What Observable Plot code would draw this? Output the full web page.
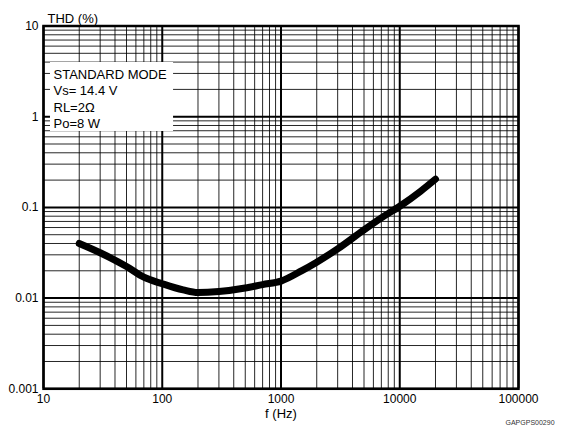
<!DOCTYPE html>
<html>
<head>
<meta charset="utf-8">
<script src="https://cdn.jsdelivr.net/npm/d3@7"></script>
<script src="https://cdn.jsdelivr.net/npm/@observablehq/plot@0.6"></script>
<style>
  html, body { margin: 0; padding: 0; background: #fff; }
  #chart svg { display: block; font-family: "Liberation Sans", Arial, Helvetica, sans-serif; }
</style>
</head>
<body>
<div id="chart"></div>
<script>
// THD vs frequency, standard mode
const freq = [20, 30, 50, 70, 100, 150, 200, 300, 500, 700, 1000, 1500, 2000, 3000, 5000, 7000, 10000, 15000, 20000];
const thd  = [0.040, 0.0316, 0.0223, 0.0170, 0.0144, 0.0123, 0.0115, 0.0118, 0.0129, 0.0141, 0.0154, 0.0201, 0.0249, 0.0349, 0.0566, 0.0767, 0.103, 0.151, 0.205];

// axis decades and their labels
const xTicks = [10, 100, 1000, 10000, 100000];
const xTickLabels = ["10", "100", "1000", "10000", "100000"];
const yTicks = [0.001, 0.01, 0.1, 1, 10];
const yTickLabels = ["0.001", "0.01", "0.1", "1", "10"];

// test conditions
const conditions = ["STANDARD MODE", "Vs= 14.4 V", "RL=2Ω", "Po=8 W"];

const data = freq.map((f, i) => ({f, thd: thd[i]}));

// minor grid values (2..9 within each decade)
const minors = ticks => ticks.slice(0, -1).flatMap(d => d3.range(2, 10).map(k => d * k));
const xMinor = minors(xTicks);
const yMinor = minors(yTicks);

const font = {fontFamily: "Liberation Sans, Arial, Helvetica, sans-serif", fill: "#000"};

const chart = Plot.plot({
  width: 561,
  height: 430,
  marginLeft: 43,
  marginRight: 43,
  marginTop: 25.5,
  marginBottom: 41.7,
  x: {type: "log", domain: [10, 100000], axis: null},
  y: {type: "log", domain: [0.001, 10], axis: null},
  marks: [
    // grid
    Plot.ruleX(xMinor, {x: d => d, stroke: "#000", strokeWidth: 1, strokeOpacity: 0.85}),
    Plot.ruleY(yMinor, {y: d => d, stroke: "#000", strokeWidth: 1, strokeOpacity: 0.85}),
    Plot.ruleX(xTicks, {x: d => d, stroke: "#000", strokeWidth: 2}),
    Plot.ruleY(yTicks, {y: d => d, stroke: "#000", strokeWidth: 2}),
    // blank panel behind the test conditions
    Plot.rect([{x1: 11.45, x2: 124.5, y1: 0.687, y2: 3.96}], {x1: "x1", x2: "x2", y1: "y1", y2: "y2", fill: "#fff"}),
    Plot.frame({stroke: "#000", strokeWidth: 2.5}),
    // THD curve
    Plot.line(data, {x: "f", y: "thd", stroke: "#000", strokeWidth: 7, strokeLinecap: "round", strokeLinejoin: "round", curve: "monotone-x"}),
    // condition text (block centred between first and last line)
    Plot.text([conditions.join("\n")], {
      text: d => d, frameAnchor: "top-left", textAnchor: "start", lineAnchor: "middle",
      dx: 10, dy: 72, lineHeight: 1.27, fontSize: 13, letterSpacing: -0.3, ...font
    }),
    // tick labels
    Plot.text(xTicks, {x: d => d, text: (d, i) => xTickLabels[i], frameAnchor: "bottom", dy: 14, fontSize: 12, ...font}),
    Plot.text(yTicks, {y: d => d, text: (d, i) => yTickLabels[i], frameAnchor: "left", textAnchor: "end", dx: -5, fontSize: 12, ...font}),
    // axis titles
    Plot.text(["THD (%)"], {text: d => d, frameAnchor: "top-left", textAnchor: "start", dx: 4, dy: -12.5, fontSize: 13, ...font}),
    Plot.text(["f (Hz)"], {text: d => d, frameAnchor: "bottom", dy: 29, fontSize: 13, ...font}),
    Plot.text(["GAPGPS00290"], {text: d => d, frameAnchor: "bottom-right", textAnchor: "start", dx: -13, dy: 36, fontSize: 7, fill: "#333", fontFamily: "Liberation Sans, Arial, sans-serif"})
  ]
});

document.getElementById("chart").appendChild(chart);
</script>
</body>
</html>
